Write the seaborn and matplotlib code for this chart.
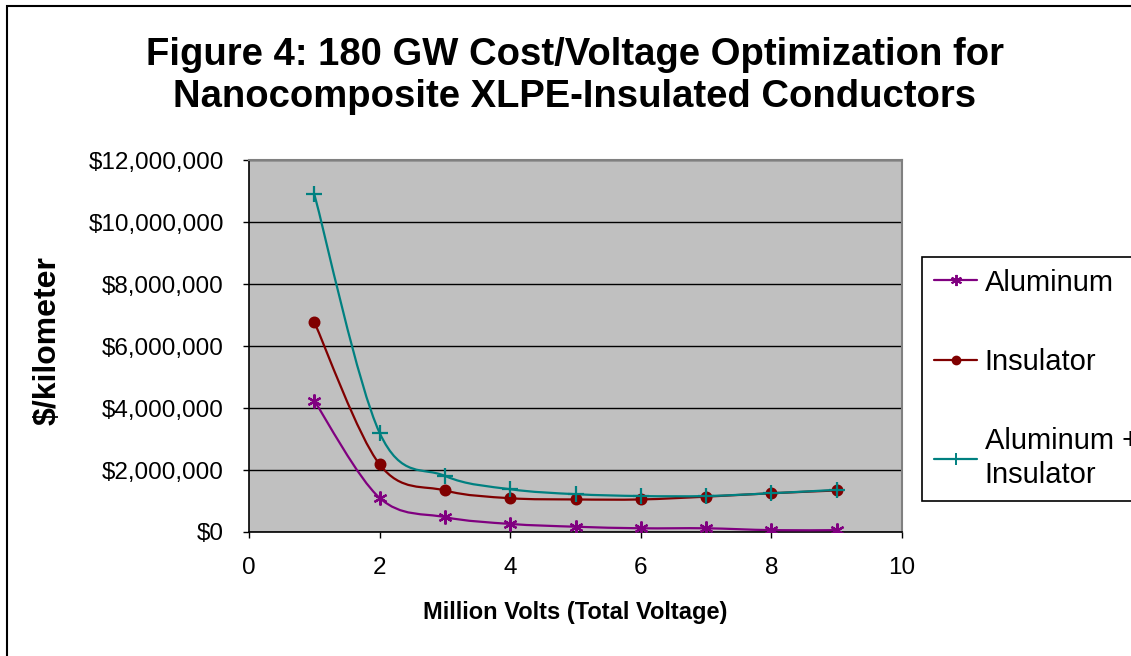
import numpy as np
import pandas as pd
import matplotlib
matplotlib.use("Agg")
import matplotlib.pyplot as plt
import seaborn as sns
from matplotlib.path import Path
from matplotlib.patches import PathPatch, Rectangle
from matplotlib.lines import Line2D
from matplotlib.ticker import FuncFormatter, MultipleLocator

# ---- data ----
volts = [1, 2, 3, 4, 5, 6, 7, 8, 9]
aluminum = [4230000, 1100000, 480000, 260000, 170000, 120000, 120000, 60000, 60000]
insulator = [6770000, 2180000, 1340000, 1090000, 1050000, 1050000, 1140000, 1250000, 1340000]
total = [10900000, 3200000, 1810000, 1380000, 1220000, 1160000, 1160000, 1250000, 1360000]
series_names = ["Aluminum", "Insulator", "Aluminum +\nInsulator"]
x_ticks = [0, 2, 4, 6, 8, 10]

colors = ["#800080", "#800000", "#008080"]
markers = [(6, 2, 0), "o", "+"]
msizes = [10, 7, 11]

sns.set_style("white")
plt.rcParams["font.family"] = ["Liberation Sans", "DejaVu Sans"]
plt.rcParams["text.color"] = "black"
plt.rcParams["axes.labelcolor"] = "black"
plt.rcParams["xtick.color"] = "black"
plt.rcParams["ytick.color"] = "black"

fig = plt.figure(figsize=(11.31, 6.56), dpi=100)
W, H = 1131, 656
ax = fig.add_axes([249 / W, 124 / H, 653 / W, 372 / H])
ax.set_facecolor("#C0C0C0")


def smooth_path(xs, ys):
    pts = np.column_stack([xs, ys]).astype(float)
    n = len(pts)
    verts = [pts[0]]
    codes = [Path.MOVETO]
    for i in range(n - 1):
        p0 = pts[i - 1] if i > 0 else pts[i]
        p1 = pts[i]
        p2 = pts[i + 1]
        p3 = pts[i + 2] if i + 2 < n else pts[i + 1]
        c1 = p1 + (p2 - p0) / 6.0
        c2 = p2 - (p3 - p1) / 6.0
        verts += [c1, c2, p2]
        codes += [Path.CURVE4] * 3
    return Path(verts, codes)


all_series = [aluminum, insulator, total]
for vals, c, m, ms in zip(all_series, colors, markers, msizes):
    patch = PathPatch(smooth_path(volts, vals), facecolor="none", edgecolor=c,
                      lw=1.6, zorder=3, transform=ax.transData)
    ax.add_patch(patch)
    sns.lineplot(x=volts, y=vals, ax=ax, color=c, marker=m, linestyle="none",
                 markersize=ms, markeredgewidth=1.6, markeredgecolor=c, zorder=4)

ax.set_xlim(0, 10)
ax.set_ylim(0, 12000000)
ax.set_xticks(x_ticks)
ax.yaxis.set_major_locator(MultipleLocator(2000000))
ax.yaxis.set_major_formatter(FuncFormatter(lambda v, p: "${:,.0f}".format(v)))
ax.grid(axis="y", color="black", lw=1.0)
ax.grid(axis="x", visible=False)
ax.set_axisbelow(True)

for s in ["top", "right"]:
    ax.spines[s].set_color("#808080")
    ax.spines[s].set_linewidth(1.5)
for s in ["left", "bottom"]:
    ax.spines[s].set_color("black")
    ax.spines[s].set_linewidth(1.2)

ax.tick_params(axis="both", which="major", direction="out", length=4, width=1,
               color="black", labelcolor="black", labelsize=17.5, pad=14,
               left=True, bottom=True)

ax.set_xlabel("Million Volts (Total Voltage)", fontsize=17, fontweight="bold", color="black")
ax.set_ylabel("$/kilometer", fontsize=23, fontweight="bold", color="black")
ax.xaxis.label.set_va("center")
ax.yaxis.label.set_va("center")
ax.xaxis.set_label_coords((575 - 249) / 653, -80 / 372)
ax.yaxis.set_label_coords((48 - 249) / 653, (532 - 341) / 372)

fig.text(575 / W, 1 - 76 / H,
         "Figure 4: 180 GW Cost/Voltage Optimization for\nNanocomposite XLPE-Insulated Conductors",
         ha="center", va="center", fontsize=27.5, fontweight="bold", linespacing=1.22,
         color="black")

handles = [Line2D([], [], color=c, marker=m, markersize=ms * 0.8, markeredgewidth=1.4,
                  lw=1.6, markeredgecolor=c)
           for c, m, ms in zip(colors, markers, msizes)]
leg = fig.legend(handles, series_names, loc="upper left",
                 bbox_to_anchor=(922 / W, 1 - 257 / H), bbox_transform=fig.transFigure,
                 fontsize=21, frameon=True, fancybox=False, framealpha=1,
                 edgecolor="black", borderpad=0.4, labelspacing=1.75,
                 handlelength=1.5, handletextpad=0.25, borderaxespad=0)
leg.get_frame().set_linewidth(1.2)
for t in leg.get_texts():
    t.set_color("black")
    t.set_linespacing(1.3)

# figure border (Excel chart area)
fig.patches.append(Rectangle((7 / W, -0.2), 1.5, (1 - 6 / H) + 0.2, fill=False,
                             edgecolor="black", lw=1.5, transform=fig.transFigure,
                             figure=fig))

fig.savefig("out.png", dpi=100)
